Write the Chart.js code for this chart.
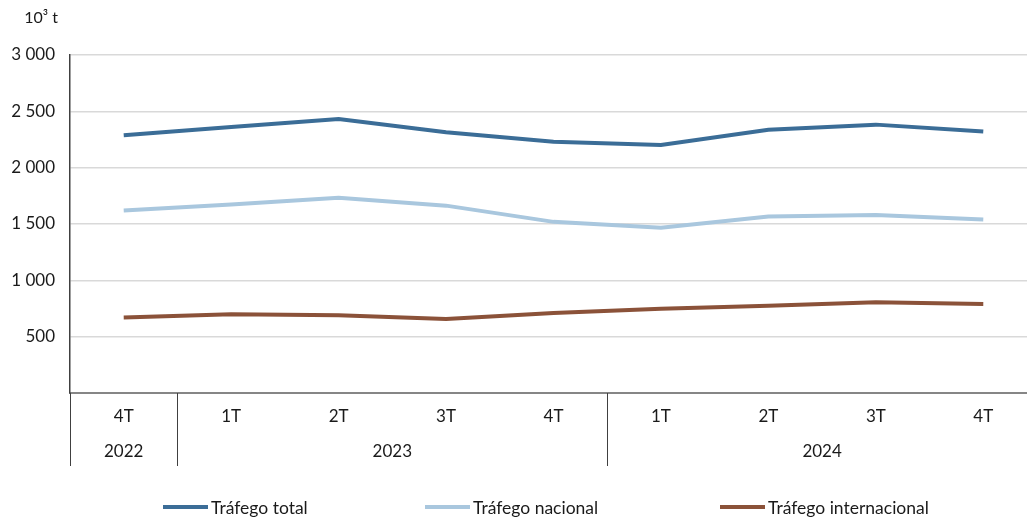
<!DOCTYPE html>
<html><head><meta charset="utf-8">
<script src="https://cdn.jsdelivr.net/npm/chart.js@4"></script>
<style>
html,body{margin:0;padding:0;overflow:hidden;background:#fff;width:1027px;height:517px;}
#wrap{position:absolute;left:0;top:0;width:1040px;height:517px;}
#legend{position:absolute;top:496px;left:0;width:1027px;height:22px;font:17.5px Lato, sans-serif;color:#1a1a1a;}
.li{position:absolute;top:0;display:flex;align-items:center;height:22px;white-space:nowrap}
.sw{display:inline-block;width:45px;height:4px;margin-right:3px}
</style>
</head><body>
<div id="wrap"><canvas id="c" width="1040" height="517"></canvas></div>
<div id="legend"></div>
<script>
const quarters = ['4T','1T','2T','3T','4T','1T','2T','3T','4T'];
const years = ['2022','2023','2024'];
const yearSpans = [1,4,4];
const total = [2287,2361,2432,2314,2231,2202,2337,2382,2322];
const nacional = [1619,1672,1734,1663,1519,1466,1566,1580,1540];
const internacional = [671,700,691,656,709,747,774,806,791];
const seriesNames = ['Tráfego total','Tráfego nacional','Tráfego internacional'];
const seriesColors = ['#3b6d97','#a9c7de','#8b5239'];
const unitLabel = '10³ t';
const FONT = 'Lato';
const FS = 17;

const groupPlugin = {
  id:'groups',
  afterDraw(chart){
    const ctx = chart.ctx, x = chart.scales.x, area = chart.chartArea;
    const half = (x.getPixelForValue(1) - x.getPixelForValue(0)) / 2;
    const bottom = x.bottom;
    ctx.save();
    ctx.strokeStyle = '#404040'; ctx.lineWidth = 1;
    ctx.fillStyle = '#1a1a1a';
    ctx.font = FS + 'px ' + FONT;
    ctx.textAlign = 'center'; ctx.textBaseline = 'middle';
    let start = 0;
    years.forEach((yr, i) => {
      const left = x.getPixelForValue(start) - half;
      const right = x.getPixelForValue(start + yearSpans[i] - 1) + half;
      const lx = Math.round(left) + 0.5;
      ctx.beginPath(); ctx.moveTo(lx, area.bottom); ctx.lineTo(lx, bottom); ctx.stroke();
      ctx.fillText(yr, (left + right) / 2, area.bottom + 59);
      start += yearSpans[i];
    });
    ctx.textAlign = 'right';
    ctx.font = '16px ' + FONT;
    ctx.fillText(unitLabel, 58, 18);
    ctx.restore();
  }
};

const fmt = v => v === 0 ? '' : String(v).replace(/\B(?=(\d{3})+(?!\d))/g, ' ');

new Chart(document.getElementById('c'), {
  type:'line',
  data:{
    labels: quarters,
    datasets:[
      {label:seriesNames[0], data:total, borderColor:seriesColors[0], backgroundColor:seriesColors[0]},
      {label:seriesNames[1], data:nacional, borderColor:seriesColors[1], backgroundColor:seriesColors[1]},
      {label:seriesNames[2], data:internacional, borderColor:seriesColors[2], backgroundColor:seriesColors[2]}
    ].map(d => Object.assign(d, {borderWidth:4, pointRadius:0, tension:0, fill:false}))
  },
  options:{
    responsive:false, animation:false, devicePixelRatio:1,
    layout:{padding:{top:55,right:3,bottom:51,left:0}},
    plugins:{legend:{display:false}, tooltip:{enabled:false}},
    scales:{
      x:{
        type:'category', offset:true,
        grid:{display:false, drawTicks:false},
        border:{color:'#868686', width:2},
        ticks:{color:'#1a1a1a', font:{family:FONT, size:FS}, padding:13, maxRotation:0, autoSkip:false},
        afterFit(s){ s.height = 73; }
      },
      y:{
        min:0, max:3000,
        ticks:{stepSize:500, padding:15, color:'#1a1a1a', font:{family:FONT, size:FS}, callback:fmt},
        grid:{color:'#d9d9d9', lineWidth:1.5, drawTicks:false},
        border:{color:'#404040', width:1.5},
        afterFit(s){ s.width = 70; }
      }
    }
  },
  plugins:[groupPlugin]
});

const legendLeft = [163, 425, 720];
const lg = document.getElementById('legend');
seriesNames.forEach((n, i) => {
  const d = document.createElement('div');
  d.className = 'li'; d.style.left = legendLeft[i] + 'px';
  const s = document.createElement('span'); s.className = 'sw'; s.style.background = seriesColors[i];
  d.appendChild(s); d.appendChild(document.createTextNode(n));
  lg.appendChild(d);
});
</script>
</body></html>
